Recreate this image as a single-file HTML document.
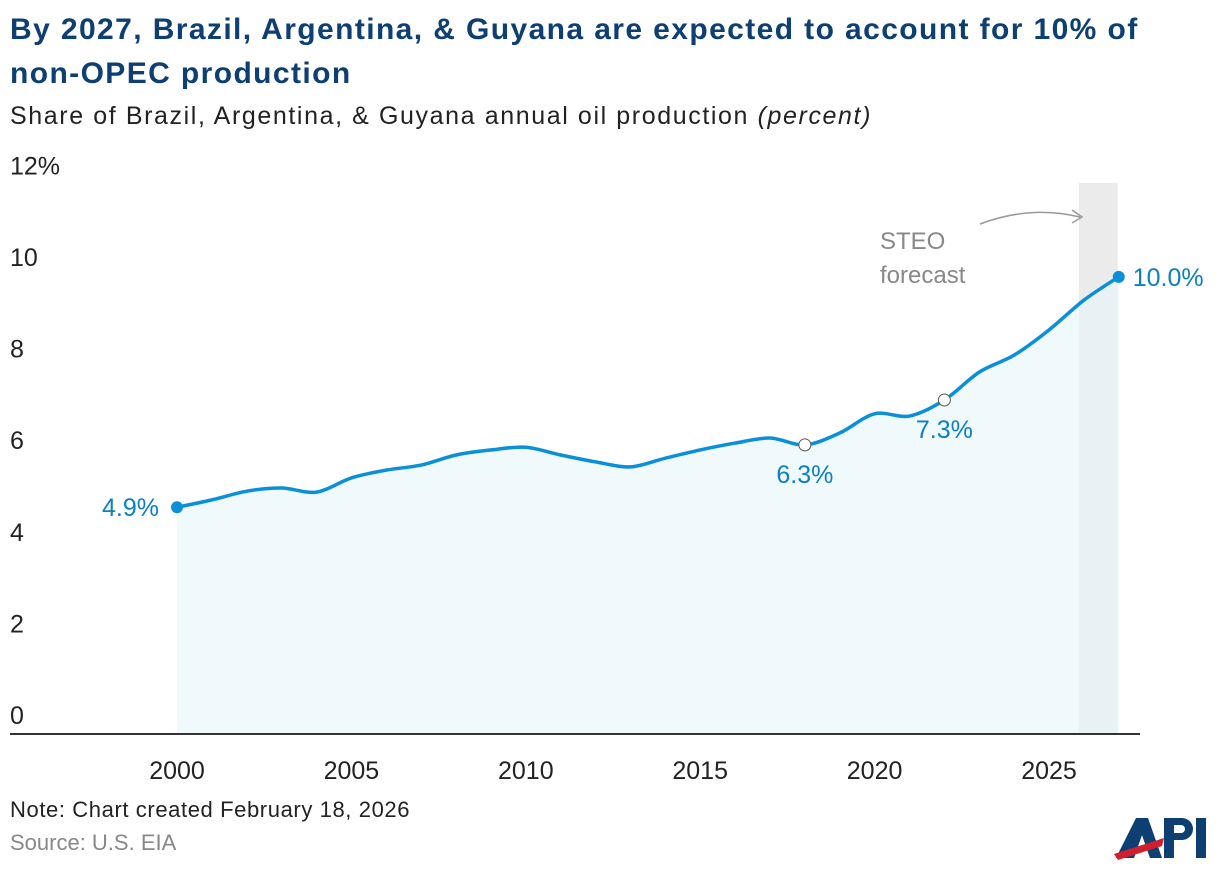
<!DOCTYPE html>
<html><head><meta charset="utf-8"><style>
body{margin:0;background:#fff;font-family:"Liberation Sans",sans-serif;}
#wrap{position:relative;width:1220px;height:872px;overflow:hidden;}
.t{position:absolute;white-space:nowrap;}
</style></head><body>
<div id="wrap">
<div class="t" style="left:10px;top:8px;font-size:30px;letter-spacing:1.4px;font-weight:bold;color:#0d3f73;line-height:44px;">By 2027, Brazil, Argentina, &amp; Guyana are expected to account for 10% of<br>non-OPEC production</div>
<div class="t" style="left:10px;top:102px;font-size:25px;letter-spacing:1.6px;color:#222;">Share of Brazil, Argentina, &amp; Guyana annual oil production <i>(percent)</i></div>
<svg id="chart" width="1220" height="872" style="position:absolute;left:0;top:0"></svg>
<div class="t" style="left:10px;top:797px;font-size:22px;letter-spacing:0.6px;color:#222;">Note: Chart created February 18, 2026</div>
<div class="t" style="left:10px;top:830px;font-size:22px;color:#888;">Source: U.S. EIA</div>
<svg width="95" height="50" style="position:absolute;left:1114px;top:810px">
<polygon points="2,48 22,8 34,8 20,48" fill="#0d3f73"/>
<polygon points="22,8 34,8 48,48 36,48" fill="#0d3f73"/>
<polygon points="0,44 50,28 48,36 4,50" fill="#d0202e"/>
<rect x="50" y="8" width="10" height="40" fill="#0d3f73"/>
<path d="M60 8 h8 a10 10 0 0 1 0 22 h-8 v-7 h7 a4 4 0 0 0 0 -8 h-7z" fill="#0d3f73"/>
<rect x="82" y="8" width="10" height="40" fill="#0d3f73"/>
</svg>
</div>
<script>
const years=[2000,2001,2002,2003,2004,2005,2006,2007,2008,2009,2010,2011,2012,2013,2014,2015,2016,2017,2018,2019,2020,2021,2022,2023,2024,2025,2026,2027];
const shares=[4.93,5.09,5.28,5.35,5.26,5.57,5.74,5.85,6.07,6.18,6.24,6.07,5.92,5.81,6.0,6.18,6.33,6.44,6.29,6.55,6.97,6.92,7.27,7.88,8.25,8.8,9.45,9.96];
const yTicks=[0,2,4,6,8,10,12];
const xTicks=[2000,2005,2010,2015,2020,2025];
const labels=[{year:2000,text:"4.9%"},{year:2018,text:"6.3%"},{year:2022,text:"7.3%"},{year:2027,text:"10.0%"}];
const forecastStart=2026;
const NS="http://www.w3.org/2000/svg";
const svg=document.getElementById('chart');
const X=y=>177+(y-2000)*34.88;
const Y=v=>733-v*45.8;
function mk(t,a){const e=document.createElementNS(NS,t);for(const k in a)e.setAttribute(k,a[k]);svg.appendChild(e);return e;}
let band=mk('rect',{x:X(forecastStart)-5,y:183,width:X(2027)-X(forecastStart)+4,height:733-183,fill:'#ebebeb'});


const pts=years.map((y,i)=>[X(y),Y(shares[i])]);
let d='M'+pts[0][0]+','+pts[0][1];
for(let i=0;i<pts.length-1;i++){const p0=pts[Math.max(0,i-1)],p1=pts[i],p2=pts[i+1],p3=pts[Math.min(pts.length-1,i+2)];const t=0.16;
d+=` C${p1[0]+(p2[0]-p0[0])*t},${p1[1]+(p2[1]-p0[1])*t} ${p2[0]-(p3[0]-p1[0])*t},${p2[1]-(p3[1]-p1[1])*t} ${p2[0]},${p2[1]}`;}
let area=mk('path',{d:d+` L${X(2027)},733 L${X(2000)},733 Z`,fill:'#e6f6fc',opacity:0.6});


let line=mk('path',{d:d,fill:'none',stroke:'#0a8fd8','stroke-width':3.5});


let ax=mk('line',{x1:10,x2:1140,y1:734,y2:734,stroke:'#333','stroke-width':2});


yTicks.forEach(v=>{const t=mk('text',{x:10,y:Y(v)-9,'font-size':25,fill:'#222','font-family':'Liberation Sans'});t.textContent=v===12?'12%':v;

});
xTicks.forEach(v=>{const t=mk('text',{x:X(v),y:779,'font-size':25,fill:'#222','text-anchor':'middle','font-family':'Liberation Sans'});t.textContent=v;

});
labels.forEach(l=>{const i=years.indexOf(l.year),x=X(l.year),y=Y(shares[i]);
let c;
if(l.year===2000||l.year===2027){c=mk('circle',{cx:x,cy:y,r:6,fill:'#0a8fd8'});}
else{c=mk('circle',{cx:x,cy:y,r:6,fill:'#fff',stroke:'#555','stroke-width':1});}


let tx,ty,anc;
if(l.year===2000){tx=x-18;ty=y+9;anc='end';}else if(l.year===2027){tx=x+14;ty=y+9;anc='start';}else{tx=x;ty=y+38;anc='middle';}
const t=mk('text',{x:tx,y:ty,'font-size':25,fill:'#0a7fc4','text-anchor':anc,'font-family':'Liberation Sans'});t.textContent=l.text;

});
let f1=mk('text',{x:880,y:249,'font-size':24,fill:'#888','font-family':'Liberation Sans'});f1.textContent='STEO';


let f2=mk('text',{x:880,y:283,'font-size':24,fill:'#888','font-family':'Liberation Sans'});f2.textContent='forecast';


let ar=mk('path',{d:'M980 224 Q1030 205 1080 217 M1072 210 L1082 217 L1072 223',fill:'none',stroke:'#999','stroke-width':1.5});


</script>
</body></html>
